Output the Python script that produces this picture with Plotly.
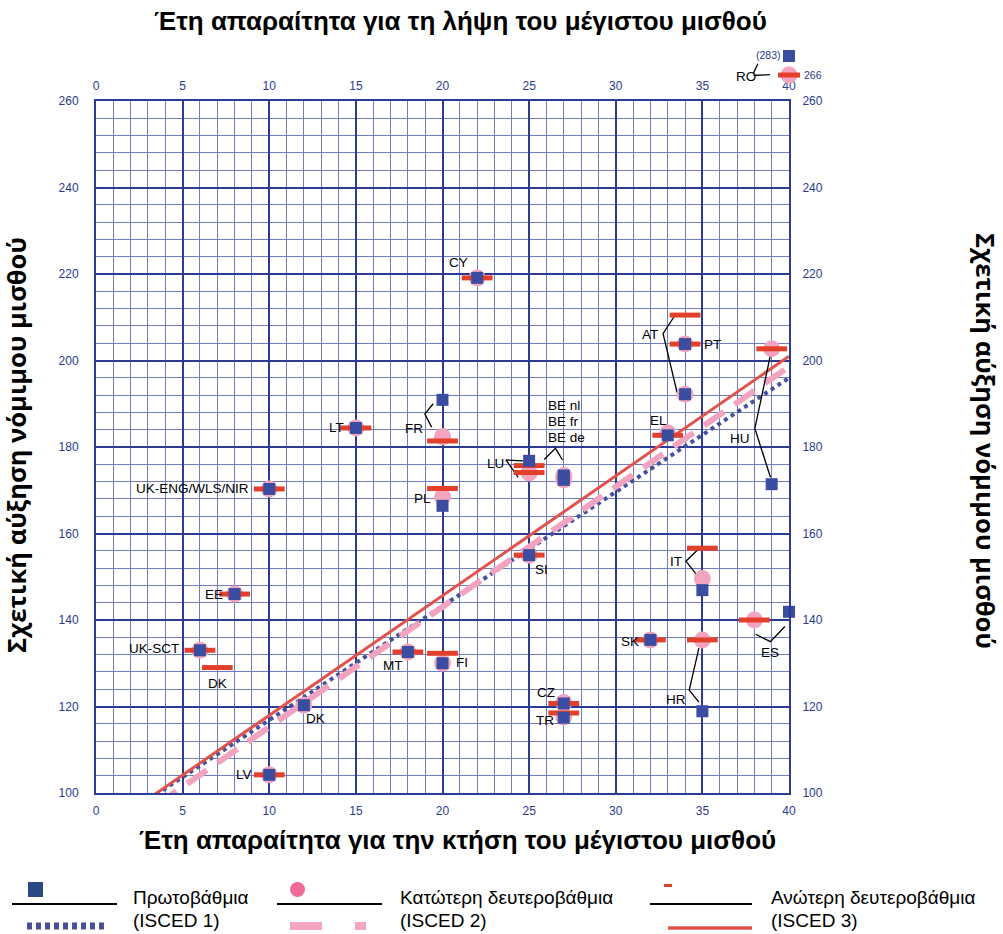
import plotly.graph_objects as go

# ---------------------------------------------------------------- data
# ISCED 1 (primary): years needed to reach top salary / relative increase
isced1_codes = ["LV", "UK-ENG/WLS/NIR", "EE", "UK-SCT", "DK", "LT", "CY", "FR", "PL",
                "LU", "BE nl", "BE fr", "BE de", "SI", "MT", "FI", "CZ", "TR", "AT",
                "PT", "EL", "HU", "IT", "SK", "HR", "ES", "RO"]
isced1_years = [10, 10, 8, 6, 12, 15, 22, 20, 20, 25, 27, 27, 27, 25, 18, 20, 27, 27,
                34, 34, 33, 39, 35, 32, 35, 40, 40]
isced1_incr = [104.2, 170.3, 146.0, 133.0, 120.3, 184.4, 219.1, 190.9, 166.4, 176.8,
               173.4, 172.9, 172.4, 155.0, 132.6, 130.0, 120.7, 117.4, 192.2, 203.8,
               182.7, 171.4, 146.9, 135.4, 118.9, 141.9, 283.0]

# ISCED 2 (lower secondary)
isced2_codes = ["LV", "UK-ENG/WLS/NIR", "EE", "UK-SCT", "DK", "LT", "CY", "FR", "PL",
                "LU", "BE nl", "BE fr", "BE de", "SI", "MT", "FI", "CZ", "TR", "AT",
                "PT", "EL", "HU", "IT", "SK", "HR", "ES", "RO"]
isced2_years = [10, 10, 8, 6, 12, 15, 22, 20, 20, 25, 27, 27, 27, 25, 18, 20, 27, 27,
                34, 34, 33, 39, 35, 32, 35, 38, 40]
isced2_incr = [104.2, 170.3, 146.0, 133.0, 120.3, 184.4, 219.1, 182.4, 168.5, 174.0,
               173.4, 172.9, 172.4, 155.0, 132.6, 130.0, 120.9, 117.6, 192.2, 203.8,
               183.3, 202.7, 149.6, 135.4, 135.4, 140.0, 266.0]

# ISCED 3 (upper secondary)
isced3_codes = ["LV", "UK-ENG/WLS/NIR", "EE", "UK-SCT", "DK", "LT", "CY", "FR", "PL",
                "LU", "LU", "SI", "MT", "FI", "CZ", "TR", "AT", "PT", "EL", "HU",
                "IT", "SK", "HR", "ES", "RO"]
isced3_years = [10, 10, 8, 6, 7, 15, 22, 20, 20, 25, 25, 25, 18, 20, 27, 27, 34, 34,
                33, 39, 35, 32, 35, 38, 40]
isced3_incr = [104.2, 170.3, 146.0, 133.0, 129.0, 184.4, 219.1, 181.4, 170.4, 175.7,
               174.1, 155.0, 132.6, 132.3, 120.7, 118.5, 210.5, 203.8, 182.7, 202.7,
               156.6, 135.4, 135.4, 140.0, 266.0]

# linear trend per level: intercept, slope
trend_levels = ["ISCED 1", "ISCED 2", "ISCED 3"]
trend_intercept = [90.5, 87.5, 90.3]
trend_slope = [2.637, 2.777, 2.767]

x_ticks = [0, 5, 10, 15, 20, 25, 30, 35, 40]
y_ticks = [100, 120, 140, 160, 180, 200, 220, 240, 260]

# ---------------------------------------------------------------- style
X_MIN, X_MAX = 0, 40
Y_MIN, Y_MAX = 100, 260
Y_CAP = 270.4          # values above this sit at the cap, value shown in brackets

NAVY = "#3B4DA0"
PINK = "#F3A5BF"
RED = "#E2402B"
RED_LINE = "#E2524D"
AXIS = "#2B3A92"
GRID_MINOR = "#717CBF"
FONT = "Liberation Sans, Arial, sans-serif"
TITLE_SIDE_FONT = "Open Sans, DejaVu Sans, sans-serif"

W, H = 1003, 934
L, R, T, B = 96, 789, 101, 793   # plot area in pixels
PW, PH = R - L, B - T


def px(x):
    return (x - L) / PW


def py(y):
    return (B - y) / PH


def xdata(v):
    return (v - X_MIN) / (X_MAX - X_MIN)


def ydata(v):
    return (v - Y_MIN) / (Y_MAX - Y_MIN)


fig = go.Figure()

# trend lines
line_styles = [
    dict(color="#46509E", width=4, dash="4px,4px"),
    dict(color="#F2A3BF", width=6, dash="24px,13px"),
    dict(color=RED_LINE, width=3),
]
for name, a, b, st in zip(trend_levels, trend_intercept, trend_slope, line_styles):
    xs = [X_MIN, X_MAX]
    fig.add_trace(go.Scatter(x=xs, y=[a + b * v for v in xs], mode="lines",
                             line=st, hoverinfo="skip", showlegend=False))

# leader lines from labels to their points
leaders = [
    [(19.46, 190.0), (18.98, 187.6), (19.37, 184.6)],
    [(24.66, 176.8), (23.66, 177.0), (24.37, 173.0)],
    [(25.87, 177.1), (26.52, 179.7), (26.93, 177.0)],
    [(33.41, 210.4), (32.73, 206.2), (33.54, 192.6)],
    [(38.93, 201.3), (38.03, 184.3), (38.93, 173.0)],
    [(34.75, 156.3), (34.05, 153.6), (34.66, 150.5)],
    [(34.8, 133.5), (34.24, 123.8), (34.8, 121.0)],
    [(38.08, 136.7), (38.93, 135.0), (39.76, 138.5)],
]
lx, ly = [], []
for seg in leaders:
    for (a, b) in seg:
        lx.append(a)
        ly.append(b)
    lx.append(None)
    ly.append(None)
fig.add_trace(go.Scatter(x=lx, y=ly, mode="lines", line=dict(color="black", width=1.3),
                         hoverinfo="skip", showlegend=False))


def inside(xs, ys):
    pts = [(a, b) for a, b in zip(xs, ys) if b <= Y_MAX]
    return [p[0] for p in pts], [p[1] for p in pts]


def outside(xs, ys):
    return [(a, min(b, Y_CAP)) for a, b in zip(xs, ys) if b > Y_MAX]


# ISCED 2 circles, ISCED 3 bars, ISCED 1 squares on top
x2, y2 = inside(isced2_years, isced2_incr)
x3, y3 = inside(isced3_years, isced3_incr)
x1, y1 = inside(isced1_years, isced1_incr)
fig.add_trace(go.Scatter(x=x2, y=y2, mode="markers", showlegend=False, cliponaxis=False,
                         marker=dict(symbol="circle", size=17, color=PINK, line=dict(width=0))))
fig.add_trace(go.Scatter(x=x3, y=y3, mode="markers", showlegend=False, cliponaxis=False,
                         marker=dict(symbol="line-ew", size=22, color=RED,
                                     line=dict(width=5, color=RED))))
fig.add_trace(go.Scatter(x=x1, y=y1, mode="markers", showlegend=False, cliponaxis=False,
                         marker=dict(symbol="square", size=12, color=NAVY, line=dict(width=0))))

shapes = []


def mark_shape(kind, xv, yv, w, h, color):
    # marker of w x h pixels centred on a data position above the axis range
    cx, cy = xdata(xv), ydata(yv)
    hw, hh = w / 2 / PW, h / 2 / PH
    shapes.append(dict(type=kind, xref="paper", yref="paper",
                       x0=cx - hw, x1=cx + hw, y0=cy - hh, y1=cy + hh,
                       fillcolor=color, line=dict(width=0), layer="above"))


for xv, yv in outside(isced2_years, isced2_incr):
    mark_shape("circle", xv, yv, 17, 17, PINK)
for xv, yv in outside(isced3_years, isced3_incr):
    mark_shape("rect", xv, yv, 22, 5, RED)
for xv, yv in outside(isced1_years, isced1_incr):
    mark_shape("rect", xv, yv, 12, 12, NAVY)

# country labels
labels = [
    ("LV", 8.55, 104.2, "center"),
    ("UK-ENG/WLS/NIR", 8.95, 170.3, "right"),
    ("EE", 7.45, 146.0, "right"),
    ("UK-SCT", 4.9, 133.3, "right"),
    ("DK", 7.0, 125.3, "center"),
    ("DK", 12.65, 117.2, "center"),
    ("LT", 14.45, 184.4, "right"),
    ("CY", 20.9, 222.6, "center"),
    ("FR", 18.35, 184.2, "center"),
    ("PL", 18.85, 168.1, "center"),
    ("LU", 23.05, 176.2, "center"),
    ("BE nl", 25.95, 189.7, "left"),
    ("BE fr", 25.95, 186.0, "left"),
    ("BE de", 25.95, 182.3, "left"),
    ("SI", 25.7, 151.6, "center"),
    ("MT", 17.15, 129.4, "center"),
    ("FI", 21.1, 130.1, "center"),
    ("CZ", 26.0, 123.2, "center"),
    ("TR", 25.9, 116.7, "center"),
    ("AT", 31.97, 205.9, "center"),
    ("PT", 35.6, 203.6, "center"),
    ("EL", 32.45, 186.2, "center"),
    ("HU", 37.2, 182.0, "center"),
    ("IT", 33.47, 153.6, "center"),
    ("SK", 30.8, 135.1, "center"),
    ("HR", 33.47, 121.7, "center"),
    ("ES", 38.93, 132.4, "center"),
]
LABEL_FONT = dict(family=FONT, size=13.5, color="black")
ann = []
for t, x, y, anc in labels:
    ann.append(dict(x=x, y=y, xref="x", yref="y", text=t, showarrow=False,
                    xanchor=anc, yanchor="middle", font=LABEL_FONT))

# RO sits above the axis range: label, leaders and values in paper space
ro_i1 = isced1_incr[isced1_codes.index("RO")]
ro_i3 = isced3_incr[isced3_codes.index("RO")]
ann.append(dict(x=xdata(37.5), y=ydata(265.6), xref="paper", yref="paper", text="RO",
                showarrow=False, xanchor="center", yanchor="middle", font=LABEL_FONT))
for seg in [[(37.95, 265.9), (38.9, 266.1)], [(37.95, 266.4), (38.2, 268.6)]]:
    (a0, b0), (a1, b1) = seg
    shapes.append(dict(type="line", xref="paper", yref="paper",
                       x0=xdata(a0), y0=ydata(b0), x1=xdata(a1), y1=ydata(b1),
                       line=dict(color="black", width=1.3)))
ann.append(dict(x=xdata(39.65), y=ydata(Y_CAP + 0.3), xref="paper", yref="paper",
                text=f"({ro_i1:.0f})", showarrow=False, xanchor="right", yanchor="middle",
                font=dict(family=FONT, size=10.5, color=AXIS)))
ann.append(dict(x=xdata(40.75), y=ydata(ro_i3), xref="paper", yref="paper",
                text=f"{ro_i3:.0f}", showarrow=False, xanchor="left", yanchor="middle",
                font=dict(family=FONT, size=10.5, color=AXIS)))

# axis titles
TITLE_FONT = dict(family=FONT, size=26, color="black", weight="bold")
SIDE_FONT = dict(family=TITLE_SIDE_FONT, size=25.5, color="black", weight="bold")
ann.append(dict(x=px(460), y=py(21), xref="paper", yref="paper", showarrow=False,
                xanchor="center", yanchor="middle",
                text="Έτη απαραίτητα για τη λήψη του μέγιστου μισθού", font=TITLE_FONT))
ann.append(dict(x=px(457), y=py(840), xref="paper", yref="paper", showarrow=False,
                xanchor="center", yanchor="middle",
                text="Έτη απαραίτητα για την κτήση του μέγιστου μισθού", font=TITLE_FONT))
ann.append(dict(x=px(16), y=py(445), xref="paper", yref="paper", showarrow=False,
                xanchor="center", yanchor="middle",
                textangle=-90, text="Σχετική αύξηση νόμιμου μισθού", font=SIDE_FONT))
ann.append(dict(x=px(986), y=py(441), xref="paper", yref="paper", showarrow=False,
                xanchor="center", yanchor="middle",
                textangle=90, text="Σχετική αύξηση νόμιμου μισθού", font=SIDE_FONT))

# legend, drawn below the chart
LEG_FONT = dict(family=FONT, size=19, color="black")
legend_items = [
    ("Πρωτοβάθμια", "(ISCED 1)", 131),
    ("Κατώτερη δευτεροβάθμια", "(ISCED 2)", 398),
    ("Ανώτερη δευτεροβάθμια", "(ISCED 3)", 769),
]
for l1, l2, x0 in legend_items:
    ann.append(dict(x=px(x0), y=py(897), xref="paper", yref="paper", showarrow=False,
                    xanchor="left", yanchor="middle", text=l1, font=LEG_FONT))
    ann.append(dict(x=px(x0), y=py(920), xref="paper", yref="paper", showarrow=False,
                    xanchor="left", yanchor="middle", text=l2, font=LEG_FONT))


def hline(x0, x1, y, color, width, dash=None):
    d = dict(type="line", xref="paper", yref="paper", x0=px(x0), x1=px(x1),
             y0=py(y), y1=py(y), line=dict(color=color, width=width))
    if dash:
        d["line"]["dash"] = dash
    shapes.append(d)


def rect(x0, y0, x1, y1, color):
    shapes.append(dict(type="rect", xref="paper", yref="paper", x0=px(x0), x1=px(x1),
                       y0=py(y0), y1=py(y1), fillcolor=color, line=dict(width=0)))


rect(28, 882, 43, 897, "#2A4A86")
hline(12, 117, 904, "black", 1.8)
hline(27, 104, 926, "#4A4F9A", 7, "5px,4px")

shapes.append(dict(type="circle", xref="paper", yref="paper", x0=px(290), x1=px(305),
                   y0=py(882), y1=py(897), fillcolor="#F06B9A", line=dict(width=0)))
hline(277, 382, 904, "black", 1.8)
rect(290, 922, 322, 930, PINK)
rect(355, 922, 366, 930, PINK)

rect(664, 884, 672, 887, RED)
hline(650, 752, 904, "black", 1.8)
hline(668, 752, 928, RED_LINE, 3.5)

axis_common = dict(showline=True, linecolor=AXIS, linewidth=2, zeroline=False,
                   ticks="", tickfont=dict(family=FONT, size=12, color=AXIS))

fig.update_layout(
    width=W, height=H,
    margin=dict(l=L, r=W - R, t=T, b=H - B, pad=0),
    paper_bgcolor="white", plot_bgcolor="white",
    showlegend=False,
    annotations=ann,
    shapes=shapes,
    xaxis=dict(range=[X_MIN, X_MAX], tickvals=x_ticks, showgrid=True, gridcolor=AXIS,
               gridwidth=1.6,
               minor=dict(dtick=1, tick0=0, showgrid=True, gridcolor=GRID_MINOR, gridwidth=0.8),
               ticklabelstandoff=6, mirror=True, **axis_common),
    yaxis=dict(range=[Y_MIN, Y_MAX], tickvals=y_ticks, showgrid=True, gridcolor=AXIS,
               gridwidth=1.6,
               minor=dict(dtick=4, tick0=100, showgrid=True, gridcolor=GRID_MINOR, gridwidth=0.8),
               ticklabelstandoff=13, mirror=True, **axis_common),
    xaxis2=dict(range=[X_MIN, X_MAX], tickvals=x_ticks, overlaying="x", side="top",
                matches="x", showgrid=False, ticklabelstandoff=4, **axis_common),
    yaxis2=dict(range=[Y_MIN, Y_MAX], tickvals=y_ticks, overlaying="y", side="right",
                matches="y", showgrid=False, ticklabelstandoff=9, **axis_common),
)

# invisible trace so the secondary axes are shown
fig.add_trace(go.Scatter(x=[None], y=[None], xaxis="x2", yaxis="y2", showlegend=False,
                         hoverinfo="skip"))

fig.write_html("out.html")
